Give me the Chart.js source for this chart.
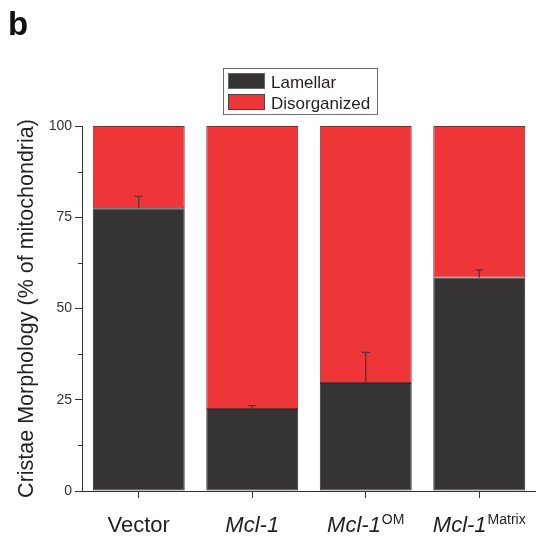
<!DOCTYPE html>
<html>
<head>
<meta charset="utf-8">
<script src="https://cdn.jsdelivr.net/npm/chart.js@4/dist/chart.umd.min.js"></script>
<style>
  html, body { margin: 0; padding: 0; background: #fff; overflow: hidden; }
</style>
</head>
<body>
<canvas id="chart" width="536" height="542"></canvas>
<script>
// données
const categories = ['Vector', 'Mcl-1', 'Mcl-1', 'Mcl-1'];
const superscripts = ['', '', 'OM', 'Matrix'];
const italicLabel = [false, true, true, true];
const lamellar = [77.5, 22.5, 29.6, 58.5];
const lamellarErr = [3.2, 0.9, 8.4, 2.1];
const disorganized = [22.5, 77.5, 70.4, 41.5];
const yTicks = [0, 25, 50, 75, 100];
const seriesNames = ['Lamellar', 'Disorganized'];

const FONT = '"Liberation Sans", Arial, sans-serif';
const TEXT = '#231f20';
const DARK = '#363334';
const RED = '#ee3538';

// barres d'erreur, ticks mineurs, libellés x, légende, lettre du panneau
const decorations = {
    id: 'decorations',
    afterDatasetsDraw(chart) {
        const ctx = chart.ctx;
        const y = chart.scales.y;
        const meta = chart.getDatasetMeta(0);
        ctx.save();
        ctx.strokeStyle = '#5a3436';
        ctx.lineWidth = 1.3;
        meta.data.forEach((bar, i) => {
            const y0 = y.getPixelForValue(lamellar[i]);
            const y1 = y.getPixelForValue(lamellar[i] + lamellarErr[i]);
            ctx.beginPath();
            ctx.moveTo(bar.x, y0);
            ctx.lineTo(bar.x, y1);
            ctx.moveTo(bar.x - 4, y1);
            ctx.lineTo(bar.x + 4, y1);
            ctx.stroke();
        });
        ctx.restore();
    },
    afterDraw(chart) {
        const ctx = chart.ctx;
        const x = chart.scales.x;
        const y = chart.scales.y;
        const area = chart.chartArea;
        ctx.save();

        // ticks mineurs axe y
        ctx.strokeStyle = '#333';
        ctx.lineWidth = 1;
        for (let k = 0; k < yTicks.length - 1; k++) {
            const py = Math.round(y.getPixelForValue((yTicks[k] + yTicks[k + 1]) / 2)) + 0.5;
            ctx.beginPath();
            ctx.moveTo(area.left - 4, py);
            ctx.lineTo(area.left, py);
            ctx.stroke();
        }

        // libellés de l'axe x (italique + exposant)
        ctx.fillStyle = TEXT;
        ctx.textBaseline = 'alphabetic';
        categories.forEach((name, i) => {
            const mainFont = (italicLabel[i] ? 'italic ' : '') + '22px ' + FONT;
            const supFont = '14px ' + FONT;
            ctx.font = mainFont;
            const w1 = ctx.measureText(name).width;
            ctx.font = supFont;
            const w2 = superscripts[i] ? ctx.measureText(superscripts[i]).width + 1 : 0;
            const cx = x.getPixelForValue(i);
            const left = cx - (w1 + w2) / 2;
            const base = 532;
            ctx.textAlign = 'left';
            ctx.font = mainFont;
            ctx.fillText(name, left, base);
            if (superscripts[i]) {
                ctx.font = supFont;
                ctx.fillText(superscripts[i], left + w1 + 1, base - 8);
            }
        });

        // légende
        ctx.strokeStyle = '#6d6d6d';
        ctx.lineWidth = 1;
        ctx.strokeRect(223.5, 68.5, 154, 46);
        const colors = [DARK, RED];
        const edges = ['#666', '#444'];
        ctx.font = '17px ' + FONT;
        ctx.textAlign = 'left';
        seriesNames.forEach((s, i) => {
            const top = 73 + i * 21;
            ctx.fillStyle = colors[i];
            ctx.fillRect(228, top, 37, 16);
            ctx.strokeStyle = edges[i];
            ctx.strokeRect(228.5, top + 0.5, 36, 15);
            ctx.fillStyle = TEXT;
            ctx.fillText(s, 271, top + 14.5);
        });

        // lettre du panneau
        ctx.font = 'bold 33px ' + FONT;
        ctx.fillStyle = '#111';
        ctx.fillText('b', 8, 35);

        ctx.restore();
    }
};

const chart = new Chart(document.getElementById('chart'), {
    type: 'bar',
    data: {
        labels: categories,
        datasets: [
            {
                label: seriesNames[0],
                data: lamellar,
                backgroundColor: DARK,
                borderColor: '#2e2b2c',
                borderWidth: 1,
                borderSkipped: false
            },
            {
                label: seriesNames[1],
                data: disorganized,
                backgroundColor: RED,
                borderColor: '#7a3032',
                borderWidth: 1,
                borderSkipped: false
            }
        ]
    },
    options: {
        responsive: false,
        animation: false,
        devicePixelRatio: 1,
        layout: { padding: { top: 126, bottom: 44, left: 0, right: 0 } },
        datasets: { bar: { categoryPercentage: 1, barPercentage: 0.81 } },
        plugins: {
            legend: { display: false },
            tooltip: { enabled: false }
        },
        scales: {
            x: {
                stacked: true,
                offset: true,
                grid: { display: true, offset: false, drawOnChartArea: false, drawTicks: true, tickLength: 7, color: '#333' },
                border: { display: true, color: '#333', width: 1 },
                ticks: { display: false }
            },
            y: {
                stacked: true,
                min: 0,
                max: 100,
                afterBuildTicks(scale) {
                    scale.ticks = yTicks.map(v => ({ value: v }));
                },
                afterFit(scale) {
                    scale.width = 82;
                },
                grid: { display: true, drawOnChartArea: false, drawTicks: true, tickLength: 7, color: '#333' },
                border: { display: true, color: '#333', width: 1 },
                ticks: {
                    color: '#333',
                    padding: 3,
                    font: { family: FONT, size: 14 }
                },
                title: {
                    display: true,
                    text: 'Cristae Morphology (% of mitochondria)',
                    color: TEXT,
                    font: { family: FONT, size: 21.5 },
                    padding: { top: 14, bottom: 0 }
                }
            }
        }
    },
    plugins: [decorations]
});
</script>
</body>
</html>
